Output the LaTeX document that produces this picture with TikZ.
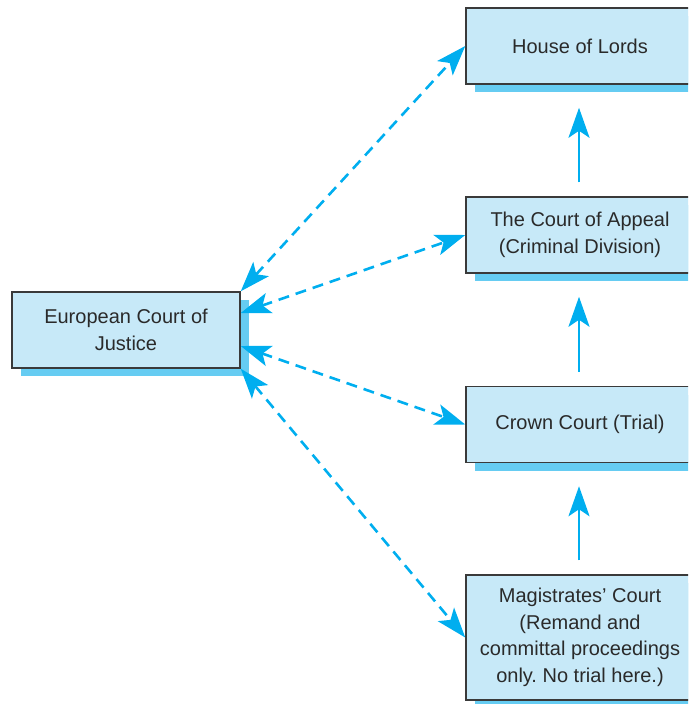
\documentclass[tikz,border=0pt]{standalone}
\usepackage{fontspec}
\setmainfont{Liberation Sans}
\usetikzlibrary{arrows.meta,shadows,calc}
\definecolor{boxfill}{HTML}{C7E9F8}
\definecolor{shadowblue}{HTML}{66CCF2}
\definecolor{arrowblue}{HTML}{00AEEF}
\definecolor{edgegray}{HTML}{3A3A3A}
\definecolor{txt}{HTML}{2A2A2A}
\frenchspacing
\begin{document}
\begin{tikzpicture}[x=1pt,y=-1pt,
  court/.style={draw=edgegray, line width=1.5pt, fill=boxfill,
    minimum width=228pt, minimum height=76pt, inner sep=0pt, align=center,
    text=txt, font=\fontsize{20}{26.5}\selectfont,
    drop shadow={fill=shadowblue, opacity=1, shadow xshift=9pt, shadow yshift=-8pt}},
  up/.style={draw=arrowblue, line width=2.6pt,
    -{Stealth[length=30pt,width=21pt,inset=7pt]}},
  link/.style={draw=arrowblue, line width=2.6pt, dash pattern=on 11pt off 7pt,
    {Stealth[length=30pt,width=21pt,inset=7pt]}-{Stealth[length=30pt,width=21pt,inset=7pt]}}
]
\useasboundingbox (0,0) rectangle (688,704);
\clip (0,0) rectangle (688,704);

\node[court] (ecj) at (126,330) {European Court of\\Justice};
\node[court] (hol) at (580,46) {House of Lords};
\node[court] (coa) at (580,235) {The Court of Appeal\\(Criminal Division)};
\node[court] (crown) at (580,424.5) {Crown Court (Trial)};
\node[court, minimum height=125pt] (mag) at (580,637.5) {Magistrates’ Court\\(Remand and\\committal proceedings\\only. No trial here.)};

\draw[up, shorten <=14pt, shorten >=23pt] ([xshift=-1pt]coa.north) -- ([xshift=-1pt]hol.south);
\draw[up, shorten <=14pt, shorten >=23pt] ([xshift=-1pt]crown.north) -- ([xshift=-1pt]coa.south);
\draw[up, shorten <=14pt, shorten >=23pt] ([xshift=-1pt]mag.north) -- ([xshift=-1pt]crown.south);

\draw[link] (ecj.north east) -- (hol.west);
\draw[link] ([yshift=17pt]ecj.east) -- (coa.west);
\draw[link] ([yshift=-16pt]ecj.east) -- (crown.west);
\draw[link] (ecj.south east) -- (mag.west);
\end{tikzpicture}
\end{document}
